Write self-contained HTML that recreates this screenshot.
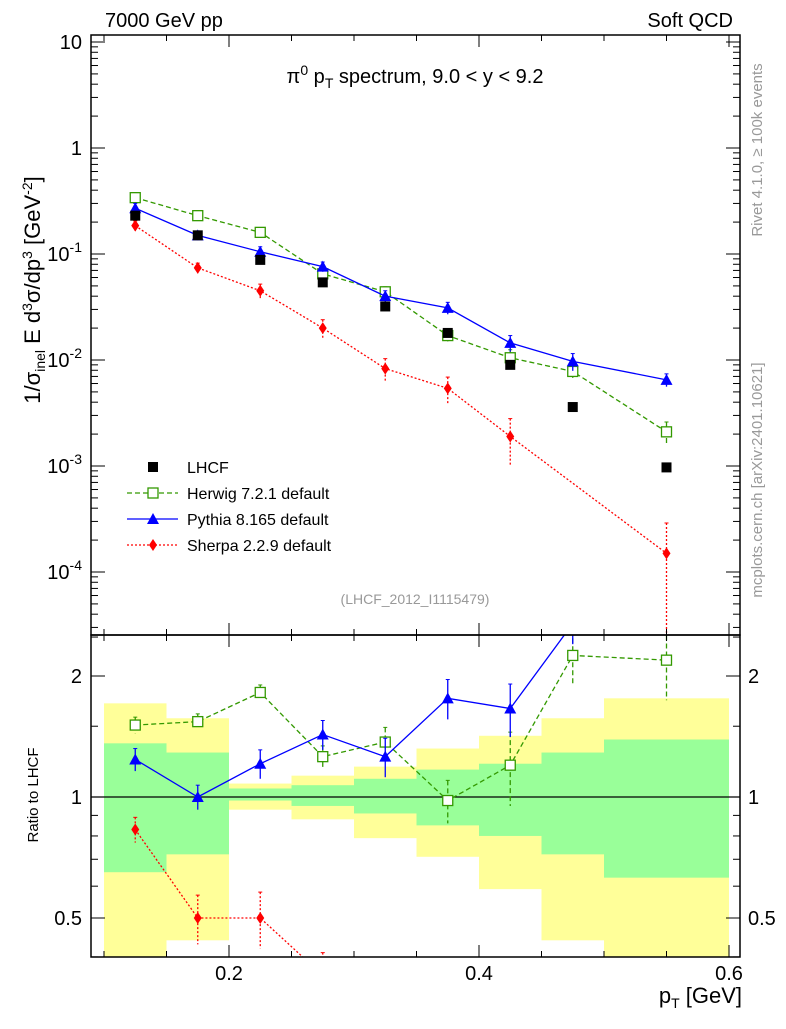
<!DOCTYPE html>
<html><head><meta charset="utf-8"><style>
body{margin:0;background:#fff;font-family:"Liberation Sans",sans-serif;}
svg text{font-family:"Liberation Sans",sans-serif;}
</style></head><body>
<svg id="c" width="786" height="1024" xmlns="http://www.w3.org/2000/svg"></svg>
<script>
const xs=[0.125,0.175,0.225,0.275,0.325,0.375,0.425,0.475,0.55];
const binLo=[0.1,0.15,0.2,0.25,0.3,0.35,0.4,0.45,0.5];
const binHi=[0.15,0.2,0.25,0.3,0.35,0.4,0.45,0.5,0.6];
const lhcf=[0.23,0.15,0.088,0.054,0.032,0.018,0.009,0.0036,0.00097];
const herwig=[0.34,0.23,0.16,0.065,0.044,0.017,0.0105,0.0078,0.0021];
const herwigErr=[0.04,0.02,0.015,0.006,0.005,0.002,0.002,0.0012,0.0005];
const pythia=[0.27,0.15,0.105,0.076,0.04,0.031,0.0145,0.0097,0.0065];
const pythiaErr=[0.03,0.015,0.012,0.008,0.005,0.004,0.0025,0.0018,0.0009];
const sherpaX=[0.125,0.175,0.225,0.275,0.325,0.375,0.425,0.55];
const sherpa=[0.185,0.074,0.045,0.02,0.0083,0.0054,0.0019,0.00015];
const sherpaErr=[0.02,0.008,0.007,0.004,0.002,0.0015,0.0009,0.00014];
const rHerwig=[1.51,1.54,1.82,1.26,1.37,0.98,1.2,2.25,2.19];
const rHerwigErr=[0.07,0.07,0.08,0.08,0.12,0.12,0.25,0.35,0.45];
const rPythia=[1.24,1.0,1.21,1.43,1.26,1.76,1.66,2.7];
const rPythiaErr=[0.08,0.07,0.1,0.12,0.14,0.2,0.25,0.3];
const rSherpaX=[0.125,0.175,0.225,0.275];
const rSherpa=[0.83,0.5,0.5,0.36];
const rSherpaErr=[0.06,0.07,0.08,0.05];
const yelLo=[0.4,0.44,0.93,0.88,0.79,0.71,0.59,0.44,0.37];
const yelHi=[1.71,1.57,1.08,1.13,1.19,1.32,1.42,1.57,1.76];
const grnLo=[0.65,0.72,0.98,0.95,0.91,0.85,0.80,0.72,0.63];
const grnHi=[1.36,1.29,1.05,1.07,1.11,1.17,1.21,1.29,1.39];
const yTickLabels=["10","1","10^-1","10^-2","10^-3","10^-4"];

const NS="http://www.w3.org/2000/svg",svg=document.getElementById('c');
const L=91,R=740,T=35,MB=635,RB=957;
const X=v=>229+(v-0.2)*1250;
const Y=v=>42-(Math.log10(v)-1)*106;
const RY=v=>797-Math.log2(v)*121;
function el(t,a,p){const e=document.createElementNS(NS,t);for(const k in a)e.setAttribute(k,a[k]);(p||svg).appendChild(e);return e;}
const defs=el('defs',{});
const cm=el('clipPath',{id:'cm'},defs);el('rect',{x:L,y:T,width:R-L,height:MB-T},cm);
const cr=el('clipPath',{id:'cr'},defs);el('rect',{x:L,y:MB,width:R-L,height:RB-MB},cr);
const gm=el('g',{'clip-path':'url(#cm)'});
const gr=el('g',{'clip-path':'url(#cr)'});
for(let i=0;i<binLo.length;i++){
 const y=el('rect',{x:X(binLo[i]),y:RY(yelHi[i]),width:X(binHi[i])-X(binLo[i]),height:RY(yelLo[i])-RY(yelHi[i]),fill:'#ffff99'},gr);
 
 const g=el('rect',{x:X(binLo[i]),y:RY(grnHi[i]),width:X(binHi[i])-X(binLo[i]),height:RY(grnLo[i])-RY(grnHi[i]),fill:'#99ff99'},gr);
 
}
el('line',{x1:L,x2:R,y1:RY(1),y2:RY(1),stroke:'#000','stroke-width':1.3},gr);
function series(g,xa,ya,ea,fy,color,dash,marker,name){
 const pts=xa.slice(0,ya.length).map((x,i)=>X(x)+','+fy(ya[i])).join(' ');
 const pl=el('polyline',{points:pts,fill:'none',stroke:color,'stroke-width':1.3,'stroke-dasharray':dash},g);
 
 ya.forEach((v,i)=>{const x=X(xa[i]),y=fy(v);
  if(ea){const e=ea[i];el('line',{x1:x,x2:x,y1:fy(v+e),y2:fy(Math.max(v-e,1e-9)),stroke:color,'stroke-width':1.3,'stroke-dasharray':dash},g);
   el('line',{x1:x-2,x2:x+2,y1:fy(v+e),y2:fy(v+e),stroke:color},g);}
  let m;
  if(marker=='sq')m=el('rect',{x:x-5,y:y-5,width:10,height:10,fill:'#fff',stroke:color,'stroke-width':1.3},g);
  else if(marker=='fsq')m=el('rect',{x:x-5,y:y-5,width:10,height:10,fill:color},g);
  else if(marker=='tri')m=el('polygon',{points:`${x},${y-6} ${x-6},${y+5} ${x+6},${y+5}`,fill:color},g);
  else m=el('polygon',{points:`${x},${y-6} ${x-4},${y} ${x},${y+6} ${x+4},${y}`,fill:color},g);
  
 });
}
series(gm,sherpaX,sherpa,sherpaErr,Y,'#ff0000','2,2','dia','sherpa');
series(gm,xs,herwig,herwigErr,Y,'#339900','5,3','sq','herwig');
series(gm,xs,pythia,pythiaErr,Y,'#0000ff','','tri','pythia');
lhcf.forEach((v,i)=>{const m=el('rect',{x:X(xs[i])-5,y:Y(v)-5,width:10,height:10,fill:'#000'},gm);});
series(gr,rSherpaX,rSherpa,rSherpaErr,RY,'#ff0000','2,2','dia','sherpa-ratio');
series(gr,xs,rHerwig,rHerwigErr,RY,'#339900','5,3','sq','herwig-ratio');
series(gr,xs,rPythia,rPythiaErr,RY,'#0000ff','','tri','pythia-ratio');
el('rect',{x:L,y:T,width:R-L,height:MB-T,fill:'none',stroke:'#000','stroke-width':1.5});
el('rect',{x:L,y:MB,width:R-L,height:RB-MB,fill:'none',stroke:'#000','stroke-width':1.5});
for(let v=0.1;v<=0.6001;v+=0.05){const x=X(v),maj=Math.abs(v*10-Math.round(v*10))<1e-6&&Math.round(v*10)%2==0;const h=maj?12:6;
 [[T,1],[MB,-1],[MB,1],[RB,-1]].forEach(([y,d])=>el('line',{x1:x,x2:x,y1:y,y2:y+d*h,stroke:'#000'}));}
[0.2,0.4,0.6].forEach(v=>{const t=el('text',{x:X(v),y:980,'font-size':20,'text-anchor':'middle'});t.textContent=v.toFixed(1);});
for(let d=-4;d<=1;d++){const y=Y(Math.pow(10,d));el('line',{x1:L,x2:L+14,y1:y,y2:y,stroke:'#000'});el('line',{x1:R,x2:R-14,y1:y,y2:y,stroke:'#000'});
 for(let k=2;k<10;k++){const yy=Y(k*Math.pow(10,d-1));if(yy<MB&&yy>T){el('line',{x1:L,x2:L+7,y1:yy,y2:yy,stroke:'#000'});el('line',{x1:R,x2:R-7,y1:yy,y2:yy,stroke:'#000'});}}}
yTickLabels.forEach((s,i)=>{const y=Y(Math.pow(10,1-i))+7;const t=el('text',{x:82,y:y,'font-size':20,'text-anchor':'end'});
 
 if(s.includes('^')){const [b,e]=s.split('^');t.appendChild(document.createTextNode(b));const ts=el('tspan',{'font-size':14,dy:-9},t);ts.textContent=e;}else t.textContent=s;});
[0.5,1,2].forEach(v=>{const y=RY(v);el('line',{x1:L,x2:L+14,y1:y,y2:y,stroke:'#000'});el('line',{x1:R,x2:R-14,y1:y,y2:y,stroke:'#000'});
 const s=v==1?'1':(v==2?'2':'0.5');[[82,'end'],[748,'start']].forEach(([x,a])=>{const t=el('text',{x:x,y:y+7,'font-size':20,'text-anchor':a});t.textContent=s;});});
[0.4,0.6,0.7,0.8,0.9,1.5,2.5].forEach(v=>{const y=RY(v);if(y>MB&&y<RB){el('line',{x1:L,x2:L+7,y1:y,y2:y,stroke:'#000'});el('line',{x1:R,x2:R-7,y1:y,y2:y,stroke:'#000'});}});
function txt(x,y,s,size,attrs,name){const t=el('text',Object.assign({x:x,y:y,'font-size':size},attrs||{}));t.innerHTML=s;return t;}
txt(105,27,'7000 GeV pp',20,{},'header-left');
txt(733,27,'Soft QCD',20,{'text-anchor':'end'},'header-right');
txt(415,83,'π<tspan font-size="14" dy="-8">0</tspan><tspan dy="8"> p</tspan><tspan font-size="14" dy="5">T</tspan><tspan dy="-5"> spectrum, 9.0 &lt; y &lt; 9.2</tspan>',20,{'text-anchor':'middle'},'plot-title');
txt(415,604,'(LHCF_2012_I1115479)',14,{'text-anchor':'middle',fill:'#999'},'analysis-id');
txt(742,1003,'p<tspan font-size="14" dy="5">T</tspan><tspan dy="-5"> [GeV]</tspan>',22,{'text-anchor':'end'},'x-axis-title');
txt(0,0,'1/σ<tspan font-size="14" dy="5">inel</tspan><tspan dy="-5"> E d</tspan><tspan font-size="14" dy="-8">3</tspan><tspan dy="8">σ/dp</tspan><tspan font-size="14" dy="-8">3</tspan><tspan dy="8"> [GeV</tspan><tspan font-size="14" dy="-8">-2</tspan><tspan dy="8">]</tspan>',22,{transform:'translate(40,290) rotate(-90)','text-anchor':'middle'},'y-axis-title');
txt(0,0,'Ratio to LHCF',15,{transform:'translate(38,795) rotate(-90)','text-anchor':'middle'},'ratio-axis-title');
txt(0,0,'Rivet 4.1.0, ≥ 100k events',15,{transform:'translate(762,150) rotate(-90)','text-anchor':'middle',fill:'#999'},'rivet-label');
txt(0,0,'mcplots.cern.ch [arXiv:2401.10621]',15,{transform:'translate(762,480) rotate(-90)','text-anchor':'middle',fill:'#999'},'mcplots-label');
const lg=[['LHCF','#000','','fsq',false],['Herwig 7.2.1 default','#339900','5,3','sq',true],['Pythia 8.165 default','#0000ff','','tri',true],['Sherpa 2.2.9 default','#ff0000','2,2','dia',true]];
lg.forEach((e,i)=>{const y=467+i*26,x=153;const g=el('g',{});
 if(e[4])el('line',{x1:127,x2:178,y1:y,y2:y,stroke:e[1],'stroke-width':1.3,'stroke-dasharray':e[2]},g);
 if(e[3]=='fsq')el('rect',{x:x-5,y:y-5,width:10,height:10,fill:e[1]},g);
 else if(e[3]=='sq')el('rect',{x:x-5,y:y-5,width:10,height:10,fill:'#fff',stroke:e[1],'stroke-width':1.3},g);
 else if(e[3]=='tri')el('polygon',{points:`${x},${y-6} ${x-6},${y+5} ${x+6},${y+5}`,fill:e[1]},g);
 else el('polygon',{points:`${x},${y-6} ${x-4},${y} ${x},${y+6} ${x+4},${y}`,fill:e[1]},g);
 const t=el('text',{x:187,y:y+6,'font-size':16},g);t.textContent=e[0];});
</script>
</body></html>
